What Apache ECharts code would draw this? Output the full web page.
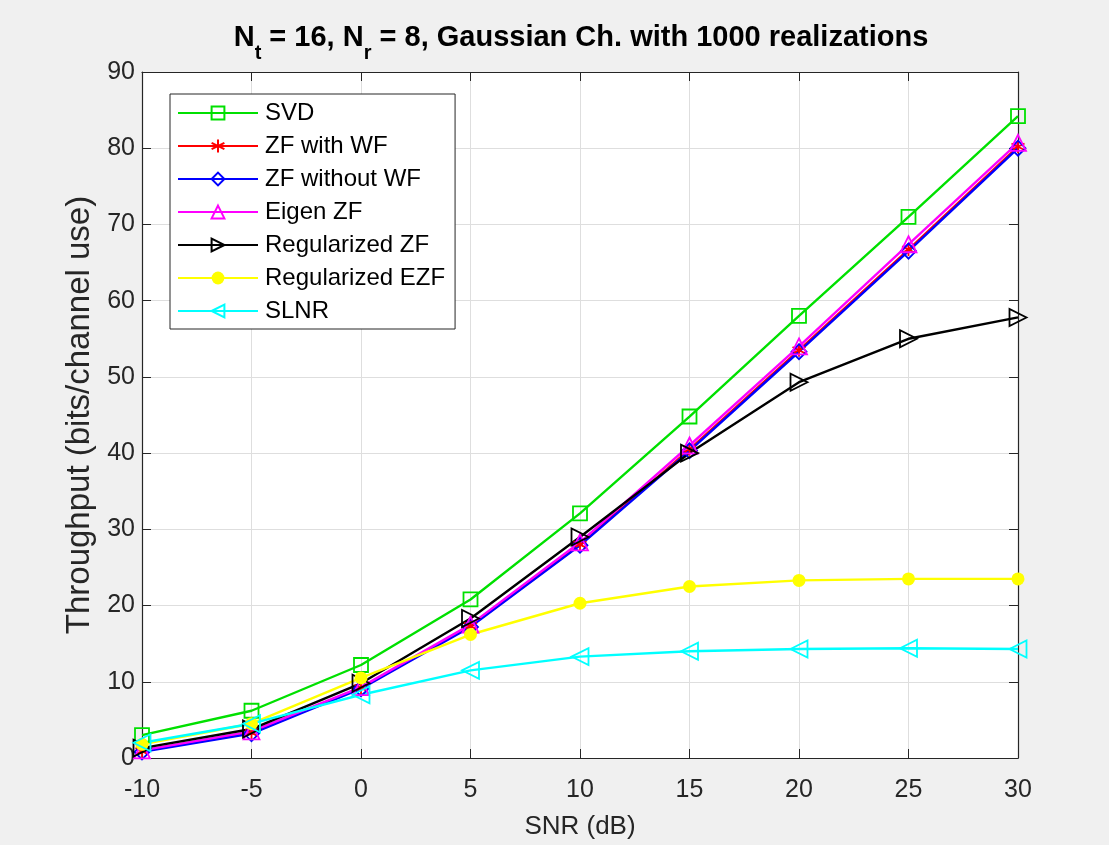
<!DOCTYPE html>
<html>
<head>
<meta charset="utf-8">
<script src="https://cdn.jsdelivr.net/npm/echarts@6/dist/echarts.min.js"></script>
<style>
  html, body { margin: 0; padding: 0; background: #f0f0f0; }
  #chart { width: 1109px; height: 845px; }
</style>
</head>
<body>
<div id="chart"></div>
<script>
var snr = [-10, -5, 0, 5, 10, 15, 20, 25, 30];
var svd = [3.0, 6.2, 12.2, 20.8, 32.1, 44.8, 58.0, 71.0, 84.2];
var zfWithWf = [0.9, 3.3, 9.2, 17.3, 28.0, 40.5, 53.5, 66.7, 80.2];
var zfWithoutWf = [0.8, 3.2, 9.1, 17.2, 27.9, 40.3, 53.3, 66.5, 80.0];
var eigenZf = [1.0, 3.5, 9.3, 17.5, 28.3, 41.0, 54.0, 67.4, 80.7];
var regZf = [1.3, 3.8, 9.8, 18.3, 29.0, 40.0, 49.3, 55.0, 57.8];
var regEzf = [1.8, 4.5, 10.5, 16.2, 20.3, 22.5, 23.3, 23.5, 23.5];
var slnr = [2.0, 4.5, 8.3, 11.5, 13.3, 14.0, 14.3, 14.4, 14.3];

var names = ['SVD', 'ZF with WF', 'ZF without WF', 'Eigen ZF',
             'Regularized ZF', 'Regularized EZF', 'SLNR'];
var colors = ['#00e000', '#ff0000', '#0000ff', '#ff00ff',
              '#000000', '#ffff00', '#00ffff'];

function pairs(ys) {
    return snr.map(function (x, i) { return [x, ys[i]]; });
}

// MATLAB style '*' marker
var asterisk = 'path://M0,-10L0,10M-8.66,-5L8.66,5M-8.66,5L8.66,-5';

function series(idx, ys, symbol, size, rotate, filled) {
    return {
        name: names[idx],
        type: 'line',
        data: pairs(ys),
        symbol: symbol,
        symbolSize: size,
        symbolRotate: rotate,
        showAllSymbol: true,
        lineStyle: { color: colors[idx], width: 2.4 },
        itemStyle: filled
            ? { color: colors[idx] }
            : { color: 'rgba(0,0,0,0)', borderColor: colors[idx], borderWidth: 1.8 },
        emphasis: { disabled: true },
        animation: false
    };
}

var font = 'Liberation Sans, Arial, sans-serif';
var axisCol = '#262626';

var chart = echarts.init(document.getElementById('chart'));
chart.setOption({
    backgroundColor: '#f0f0f0',
    textStyle: { fontFamily: font },
    grid: {
        left: 142, right: 91, top: 72, bottom: 85,
        show: true, backgroundColor: '#ffffff', borderWidth: 0
    },
    graphic: [{
        type: 'text',
        x: 581, y: 38,
        style: {
            text: '{b|N}{s|t}{b| = 16, N}{s|r}{b| = 8, Gaussian Ch. with 1000 realizations}',
            align: 'center',
            verticalAlign: 'middle',
            fill: '#000',
            rich: {
                b: { fontSize: 29, fontWeight: 'bold', fontFamily: font, lineHeight: 50, fill: '#000' },
                s: { fontSize: 20, fontWeight: 'bold', fontFamily: font, lineHeight: 18,
                     verticalAlign: 'bottom', fill: '#000' }
            }
        }
    }],
    legend: {
        orient: 'vertical',
        left: 170, top: 94,
        padding: [7, 10, 6, 7],
        itemGap: 9,
        itemWidth: 80,
        itemHeight: 16,
        backgroundColor: '#ffffff',
        borderColor: axisCol,
        borderWidth: 1,
        borderRadius: 0,
        textStyle: { fontSize: 24, color: '#000', fontFamily: font, padding: [0, 0, 0, 2] },
        data: names
    },
    xAxis: [{
        type: 'value', min: -10, max: 30, interval: 5,
        name: 'SNR (dB)', nameLocation: 'middle', nameGap: 56,
        nameTextStyle: { fontSize: 26, color: axisCol },
        axisLine: { onZero: false, lineStyle: { color: axisCol, width: 1.2 } },
        axisTick: { inside: true, length: 9, lineStyle: { color: axisCol } },
        axisLabel: { fontSize: 25, color: axisCol, margin: 20 },
        splitLine: { show: true, lineStyle: { color: '#dedede', width: 1 } }
    }, {
        type: 'value', min: -10, max: 30, interval: 5, position: 'top',
        axisLine: { onZero: false, lineStyle: { color: axisCol, width: 1.2 } },
        axisTick: { inside: true, length: 9, lineStyle: { color: axisCol } },
        axisLabel: { show: false },
        splitLine: { show: false }
    }],
    yAxis: [{
        type: 'value', min: 0, max: 90, interval: 10,
        name: 'Throughput (bits/channel use)', nameLocation: 'middle', nameGap: 45,
        nameTextStyle: { fontSize: 33, color: axisCol },
        axisLine: { show: true, onZero: false, lineStyle: { color: axisCol, width: 1.2 } },
        axisTick: { show: true, inside: true, length: 9, lineStyle: { color: axisCol } },
        axisLabel: { fontSize: 25, color: axisCol, margin: 7 },
        splitLine: { show: true, lineStyle: { color: '#dedede', width: 1 } }
    }, {
        type: 'value', min: 0, max: 90, interval: 10, position: 'right',
        axisLine: { show: true, onZero: false, lineStyle: { color: axisCol, width: 1.2 } },
        axisTick: { show: true, inside: true, length: 9, lineStyle: { color: axisCol } },
        axisLabel: { show: false },
        splitLine: { show: false }
    }],
    series: [
        series(0, svd, 'rect', 14, 0, false),
        series(1, zfWithWf, asterisk, 13, 0, false),
        series(2, zfWithoutWf, 'diamond', 15, 0, false),
        series(3, eigenZf, 'triangle', 16, 0, false),
        series(4, regZf, 'triangle', 17, -90, false),
        series(5, regEzf, 'circle', 13, 0, true),
        series(6, slnr, 'triangle', 17, 90, false)
    ]
});
</script>
</body>
</html>
